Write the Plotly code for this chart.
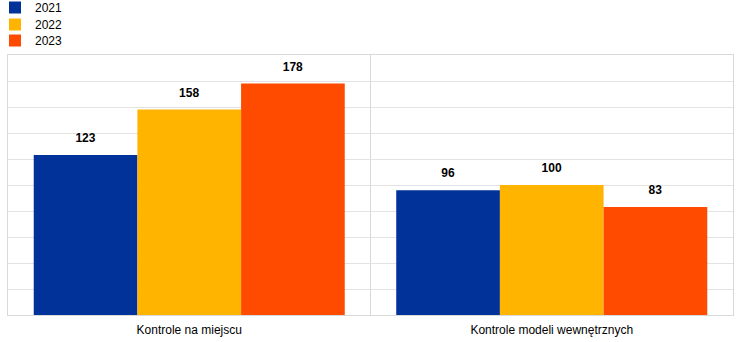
import plotly.graph_objects as go

categories = ["Kontrole na miejscu", "Kontrole modeli wewnętrznych"]
series_names = ["2021", "2022", "2023"]
values_2021 = [123, 96]
values_2022 = [158, 100]
values_2023 = [178, 83]
colors = ["#003299", "#FFB400", "#FF4B00"]

W, H = 744, 342
ML, MR, MT, MB = 8, 11, 55, 27
PW, PH = W - ML - MR, H - MT - MB
YMAX = 200
LABEL_GAP_PX = 7
legend_centers = [7, 24, 40]
legend_ids = ["legend", "legend2", "legend3"]

label_pad = LABEL_GAP_PX * YMAX / PH

fig = go.Figure()
for name, vals, col, lid in zip(series_names, [values_2021, values_2022, values_2023], colors, legend_ids):
    fig.add_trace(go.Bar(
        name=name, x=categories, y=vals, legend=lid, offsetgroup=name,
        marker=dict(color=col, line=dict(width=0)), hoverinfo="x+y+name",
    ))
    # transparent spacer carrying the data label slightly above the bar
    fig.add_trace(go.Bar(
        name=name, x=categories, y=[label_pad] * len(vals), base=vals,
        offsetgroup=name, showlegend=False, hoverinfo="skip",
        marker=dict(color="rgba(0,0,0,0)", line=dict(width=0)),
        text=[f"<b>{v}</b>" for v in vals], textposition="outside",
        textfont=dict(family="Liberation Sans, Arial", size=12, color="#000000"),
        cliponaxis=False,
    ))

legend_layout = {}
for lid, c in zip(legend_ids, legend_centers):
    top_px = c - 14
    legend_layout[lid] = dict(
        orientation="v", x=(-5 - ML) / PW, y=(H - MB - top_px) / PH,
        xref="paper", yref="paper",
        xanchor="left", yanchor="top", font=dict(size=12), itemwidth=30,
        bgcolor="rgba(0,0,0,0)")

fig.update_layout(
    width=W, height=H,
    margin=dict(l=ML, r=MR, t=MT, b=MB, autoexpand=False),
    barmode="group", bargap=0.142, bargroupgap=0,
    plot_bgcolor="white", paper_bgcolor="white",
    font=dict(family="Liberation Sans, Arial", size=12, color="#000000"),
    showlegend=True,
    xaxis=dict(showline=True, linecolor="#d9d9d9", linewidth=1, mirror=True,
               showgrid=False, ticks="", tickfont=dict(size=12),
               ticklabelstandoff=4),
    yaxis=dict(range=[0, YMAX], dtick=20, showgrid=True, gridcolor="#e3e3e3",
               gridwidth=1, showticklabels=False, zeroline=False,
               showline=True, linecolor="#d9d9d9", mirror=True),
    shapes=[dict(type="line", xref="x", yref="paper", x0=0.5, x1=0.5, y0=0, y1=1,
                 line=dict(color="#d9d9d9", width=1), layer="below")],
    **legend_layout,
)

fig.write_html("out.html")
